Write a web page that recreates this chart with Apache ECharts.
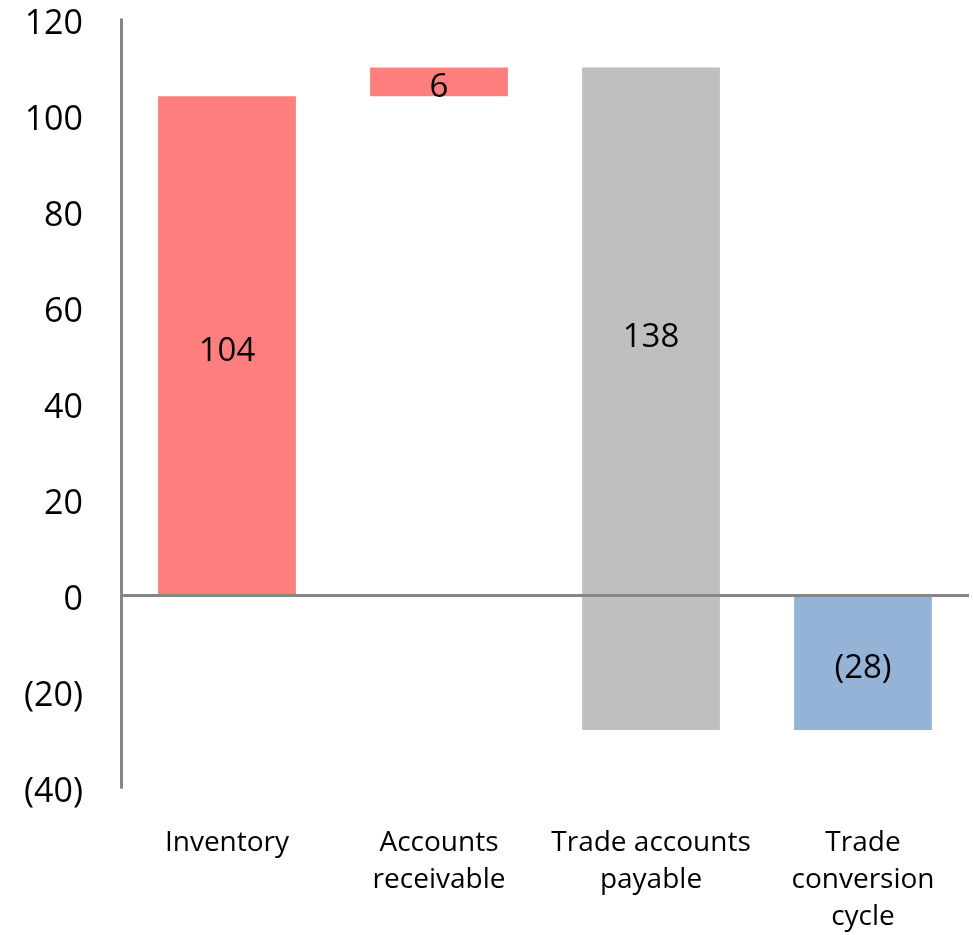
<!DOCTYPE html>
<html>
<head>
<meta charset="utf-8">
<script src="https://cdn.jsdelivr.net/npm/echarts@6/dist/echarts.min.js"></script>
<style>
html,body{margin:0;padding:0;background:#fff;}
#chart{width:973px;height:935px;}
</style>
</head>
<body>
<div id="chart"></div>
<script>
// ---- data ----
var categories = ['Inventory', 'Accounts\nreceivable', 'Trade accounts\npayable', 'Trade\nconversion\ncycle'];
var labelValues = [104, 6, 138, -28];      // values shown on bars
var baseValues = [0, 104, 0, 0];           // invisible offset (waterfall)
var aboveZero = [104, 6, 110, 0];          // visible part above zero
var belowZero = [0, 0, -28, -28];          // visible part below zero
var barColors = ['#FF7F7F', '#FF7F7F', '#BFBFBF', '#95B3D7'];
var yTicks = { min: -40, max: 120, interval: 20 };

function fmt(v) { return v < 0 ? '(' + (-v) + ')' : String(v); }

var FONT = '"Open Sans", sans-serif';
var chart = echarts.init(document.getElementById('chart'), null, { renderer: 'canvas' });

var labelStyle = {
  show: true, position: 'inside', color: '#000', fontFamily: FONT, fontSize: 33,
  offset: [0, 6]
};

chart.setOption({
  animation: false,
  backgroundColor: '#fff',
  grid: { left: 121, right: 4, top: 19.5, bottom: 147.5, containLabel: false, outerBoundsMode: 'none' },
  xAxis: {
    type: 'category',
    data: categories,
    axisLine: { show: false, onZero: false },
    axisTick: { show: false },
    axisLabel: { color: '#000', fontFamily: FONT, fontSize: 28, lineHeight: 37, margin: 37, interval: 0 },
    splitLine: { show: false }
  },
  yAxis: {
    type: 'value',
    min: yTicks.min, max: yTicks.max, interval: yTicks.interval,
    axisLine: { show: true, lineStyle: { color: '#868686', width: 3 } },
    axisTick: { show: false },
    splitLine: { show: false },
    axisLabel: { color: '#000', fontFamily: FONT, fontSize: 34, margin: 38, verticalAlign: 'top', lineHeight: 10, formatter: fmt }
  },
  series: [
    {
      name: 'base', type: 'bar', stack: 'w', barWidth: '65%',
      itemStyle: { color: 'transparent' },
      data: baseValues,
      silent: true,
      markLine: {
        silent: true, symbol: ['none', 'none'],
        label: { show: false },
        lineStyle: { color: '#868686', width: 3, type: 'solid' },
        data: [{ yAxis: 0 }]
      }
    },
    {
      name: 'up', type: 'bar', stack: 'w', barWidth: '65%',
      data: aboveZero.map(function (v, i) {
        return {
          value: v,
          itemStyle: { color: barColors[i] },
          label: Object.assign({}, labelStyle, { show: v !== 0, formatter: fmt(labelValues[i]) })
        };
      })
    },
    {
      name: 'down', type: 'bar', stack: 'w', barWidth: '65%',
      data: belowZero.map(function (v, i) {
        var showLbl = aboveZero[i] === 0 && v !== 0;
        return {
          value: v,
          itemStyle: { color: barColors[i] },
          label: Object.assign({}, labelStyle, { show: showLbl, formatter: fmt(labelValues[i]) })
        };
      })
    }
  ]
});
</script>
</body>
</html>
